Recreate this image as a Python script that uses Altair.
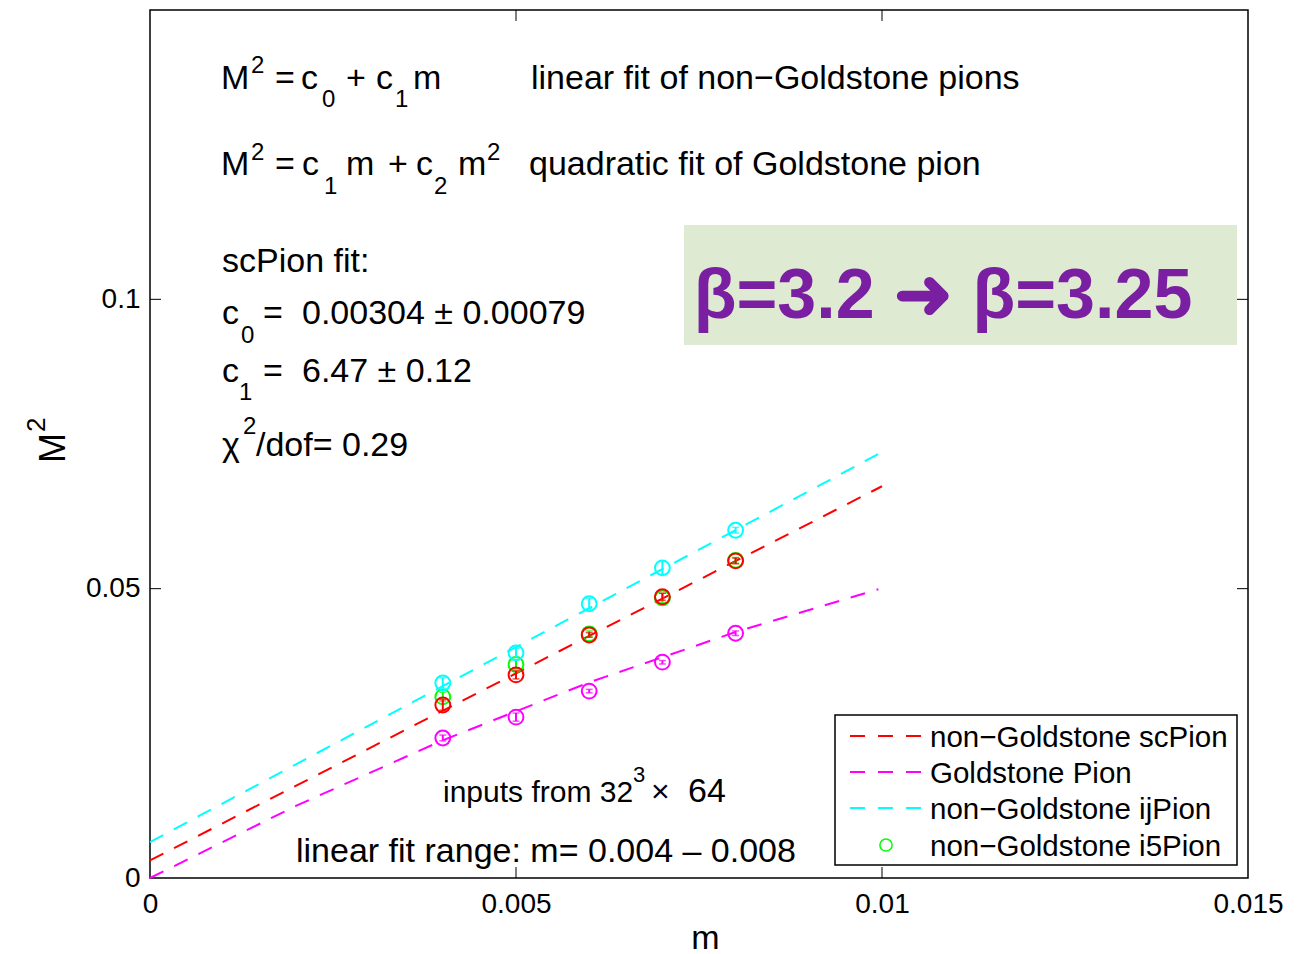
import altair as alt
import pandas as pd

# ---------------- data ----------------
m_vals = [0.004, 0.005, 0.006, 0.007, 0.008]
sc_M2 = [0.0299, 0.0351, 0.0420, 0.0486, 0.0548]
sc_err = [0.0009, 0.0007, 0.0004, 0.0006, 0.0005]
gold_M2 = [0.0242, 0.0278, 0.0323, 0.0373, 0.0423]
gold_err = [0.0005, 0.0007, 0.0003, 0.0003, 0.0004]
ij_M2 = [0.0337, 0.0389, 0.0474, 0.0536, 0.0601]
ij_err = [0.0009, 0.0008, 0.0009, 0.0011, 0.0005]
i5_M2 = [0.0313, 0.0369, 0.0422, 0.0484, 0.0549]
i5_err = [0.0008, 0.0008, 0.0005, 0.0008, 0.0005]

sc_fit_m = [0.0, 0.01]
sc_fit_M2 = [0.00304, 0.0677]
ij_fit_m = [0.0, 0.01]
ij_fit_M2 = [0.0062, 0.0736]
gold_fit_m = [0.0, 0.002, 0.004, 0.006, 0.008, 0.00995]
gold_fit_M2 = [0.0, 0.0125, 0.0238, 0.0338, 0.0425, 0.0499]

x_ticks = [0, 0.005, 0.01, 0.015]
y_ticks = [0, 0.05, 0.1]
x_inner_ticks = [0.005, 0.01]
y_inner_ticks = [0.05, 0.1]

series_names = ["non\u2212Goldstone scPion", "Goldstone Pion", "non\u2212Goldstone ijPion", "non\u2212Goldstone i5Pion"]
colors = {"sc": "#ff0000", "gold": "#ff00ff", "ij": "#00ffff", "i5": "#00ff00"}

# ---------------- geometry helpers (annotation placement) ----------------
W, H = 1098, 868
XMAX, YMAX = 0.015, 0.15
L0, T0 = 150, 10


def ax(px):
    return (px - L0) / W * XMAX


def ay(py):
    return (T0 + H - py) / H * YMAX


xs = alt.Scale(domain=[0, XMAX], nice=False, zero=False)
ys = alt.Scale(domain=[0, YMAX], nice=False, zero=False)
FONT = "Liberation Sans"

AX = alt.Axis(
    values=x_ticks, labelExpr="'' + datum.value", labelFlush=False, labelOverlap=False,
    labelFontSize=28, labelFont=FONT, labelColor="black", labelPadding=12,
    domain=False, ticks=False, grid=False,
    title="m", titleFont=FONT, titleFontSize=34, titleFontWeight="normal",
    titleColor="black", titleX=555, titleY=70, titleBaseline="alphabetic",
    titleAlign="center")
AY = alt.Axis(
    values=y_ticks, labelExpr="'' + datum.value", labelFlush=False, labelOverlap=False,
    labelFontSize=28, labelFont=FONT, labelColor="black", labelPadding=10,
    domain=False, ticks=False, grid=False, title=None)


def X(f):
    return alt.X(f, scale=xs, axis=AX)


def Y(f):
    return alt.Y(f, scale=ys, axis=AY)


# ---------------- fit lines ----------------
line_rows = []
for key, mm, vv in [("ij", ij_fit_m, ij_fit_M2), ("sc", sc_fit_m, sc_fit_M2), ("gold", gold_fit_m, gold_fit_M2)]:
    for a, b in zip(mm, vv):
        line_rows.append({"s": key, "m": a, "M2": b})
lines_df = pd.DataFrame(line_rows)

base_line = alt.Chart(lines_df).mark_line(strokeDash=[15, 12], strokeWidth=2).encode(
    x=X("m:Q"), y=Y("M2:Q"),
    color=alt.Color("s:N", scale=alt.Scale(domain=list(colors.keys()), range=list(colors.values())), legend=None),
    detail="s:N",
)

# ---------------- points with error bars ----------------
pt_rows = []
for key, vals, errs in [("i5", i5_M2, i5_err), ("ij", ij_M2, ij_err), ("gold", gold_M2, gold_err), ("sc", sc_M2, sc_err)]:
    for a, b, e in zip(m_vals, vals, errs):
        pt_rows.append({"s": key, "m": a, "M2": b, "lo": b - e, "hi": b + e})
pts_df = pd.DataFrame(pt_rows)

layers = [base_line]
for key in ["i5", "ij", "gold", "sc"]:
    d = pts_df[pts_df.s == key]
    c = colors[key]
    layers.append(alt.Chart(d).mark_rule(color=c, strokeWidth=2).encode(
        x=X("m:Q"), y=Y("lo:Q"), y2="hi:Q"))
    layers.append(alt.Chart(d).mark_tick(color=c, orient="horizontal", size=7, thickness=1.5).encode(
        x=X("m:Q"), y=Y("lo:Q")))
    layers.append(alt.Chart(d).mark_tick(color=c, orient="horizontal", size=7, thickness=1.5).encode(
        x=X("m:Q"), y=Y("hi:Q")))
    layers.append(alt.Chart(d).mark_point(shape="circle", filled=False, color=c, size=220, strokeWidth=2, opacity=1).encode(
        x=X("m:Q"), y=Y("M2:Q")))

# ---------------- inward tick marks ----------------
xt = pd.DataFrame({"v": x_inner_ticks})
yt = pd.DataFrame({"v": y_inner_ticks})
layers.append(alt.Chart(xt).mark_rule(color="black", strokeWidth=1).encode(
    x=X("v:Q"), y=alt.value(H), y2=alt.value(H - 11)))
layers.append(alt.Chart(xt).mark_rule(color="black", strokeWidth=1).encode(
    x=X("v:Q"), y=alt.value(0), y2=alt.value(11)))
layers.append(alt.Chart(yt).mark_rule(color="black", strokeWidth=1).encode(
    y=Y("v:Q"), x=alt.value(0), x2=alt.value(11)))
layers.append(alt.Chart(yt).mark_rule(color="black", strokeWidth=1).encode(
    y=Y("v:Q"), x=alt.value(W), x2=alt.value(W - 11)))

# ---------------- annotation texts ----------------
S, MAIN = 24, 34
pieces = [
    # line 1
    ("M", 221, 89, MAIN), ("2", 251, 73, S), ("=", 275, 89, MAIN), ("c", 301, 89, MAIN),
    ("0", 322, 107, S), ("+", 346, 89, MAIN), ("c", 376, 89, MAIN), ("1", 395, 107, S),
    ("m", 413, 89, MAIN), ("linear fit of non\u2212Goldstone pions", 531, 89, MAIN),
    # line 2
    ("M", 221, 175, MAIN), ("2", 251, 160, S), ("=", 275, 175, MAIN), ("c", 302, 175, MAIN),
    ("1", 324, 194, S), ("m", 346, 175, MAIN), ("+", 388, 175, MAIN), ("c", 416, 175, MAIN),
    ("2", 434, 194, S), ("m", 458, 175, MAIN), ("2", 487, 160, S),
    ("quadratic fit of Goldstone pion", 529, 175, MAIN),
    # stats
    ("scPion fit:", 222, 272, MAIN),
    ("c", 222, 324, MAIN), ("0", 241, 343, S), ("=", 263, 324, MAIN), ("0.00304 \u00b1 0.00079", 302, 324, MAIN),
    ("c", 222, 382, MAIN), ("1", 239, 400, S), ("=", 263, 382, MAIN), ("6.47 \u00b1 0.12", 302, 382, MAIN),
    ("\u03c7", 222, 456, MAIN), ("2", 243, 434, S), ("/dof= 0.29", 256, 456, MAIN),
    # bottom notes
    ("inputs from 32", 443, 802, 30), ("3", 633, 782, 22), ("\u00d7", 651, 802, 32), ("64", 688, 802, 34),
    ("linear fit range: m= 0.004 \u2013 0.008", 296, 862, MAIN),
]
ann_df = pd.DataFrame([{"t": t, "x": ax(px), "y": ay(py), "fs": fs} for t, px, py, fs in pieces])
for fs in sorted(ann_df.fs.unique()):
    layers.append(alt.Chart(ann_df[ann_df.fs == fs]).mark_text(
        align="left", baseline="alphabetic", font=FONT, fontSize=int(fs), color="black").encode(
        x=X("x:Q"), y=Y("y:Q"), text="t:N"))

# y-axis title "M^2" (rotated), drawn as text so the superscript matches
ytitle = [("M", 65, 463, 36), ("2", 45, 432, 26)]
for t, px, py, fs in ytitle:
    d = pd.DataFrame([{"t": t, "x": ax(px), "y": ay(py)}])
    layers.append(alt.Chart(d).mark_text(
        align="left", baseline="alphabetic", angle=270, font=FONT, fontSize=fs, color="black").encode(
        x=X("x:Q"), y=Y("y:Q"), text="t:N"))

# ---------------- beta box ----------------
box_df = pd.DataFrame([{"x": ax(684), "x2": ax(1237), "y": ay(225), "y2": ay(345)}])
layers.append(alt.Chart(box_df).mark_rect(color="#dfead3").encode(
    x=X("x:Q"), x2="x2:Q", y=Y("y:Q"), y2="y2:Q"))
beta_df = pd.DataFrame([{"t": "\u03b2=3.2 \u279c \u03b2=3.25", "x": ax(943), "y": ay(318)}])
layers.append(alt.Chart(beta_df).mark_text(
    align="center", baseline="alphabetic", font=FONT, fontWeight="bold", fontSize=70, color="#7a1fa2").encode(
    x=X("x:Q"), y=Y("y:Q"), text="t:N"))

# ---------------- legend ----------------
leg_box = pd.DataFrame([{"x": ax(835), "x2": ax(1237), "y": ay(715), "y2": ay(865)}])
layers.append(alt.Chart(leg_box).mark_rect(fill="white", stroke="black", strokeWidth=1.5).encode(
    x=X("x:Q"), x2="x2:Q", y=Y("y:Q"), y2="y2:Q"))
row_y = [736, 772, 808, 845]
leg_keys = ["sc", "gold", "ij"]
for k, yy in zip(leg_keys, row_y[:3]):
    d = pd.DataFrame([{"x": ax(850), "x2": ax(922), "y": ay(yy)}])
    layers.append(alt.Chart(d).mark_rule(color=colors[k], strokeWidth=2, strokeDash=[15, 13]).encode(
        x=X("x:Q"), x2="x2:Q", y=Y("y:Q")))
d = pd.DataFrame([{"x": ax(886), "y": ay(row_y[3])}])
layers.append(alt.Chart(d).mark_point(shape="circle", filled=False, color=colors["i5"], size=150, strokeWidth=1.5, opacity=1).encode(
    x=X("x:Q"), y=Y("y:Q")))
leg_txt = pd.DataFrame([{"t": n, "x": ax(930), "y": ay(yy + 11)} for n, yy in zip(series_names, row_y)])
layers.append(alt.Chart(leg_txt).mark_text(
    align="left", baseline="alphabetic", font=FONT, fontSize=29.5, color="black").encode(
    x=X("x:Q"), y=Y("y:Q"), text="t:N"))

chart = alt.layer(*layers).properties(
    width=W, height=H,
    padding={"left": 150, "top": 10, "right": 60, "bottom": 76},
    autosize=alt.AutoSizeParams(type="none"),
    background="white",
).configure_view(stroke="black", strokeWidth=1.5)

chart.save("out.html", embed_options={"renderer": "svg", "actions": False})
